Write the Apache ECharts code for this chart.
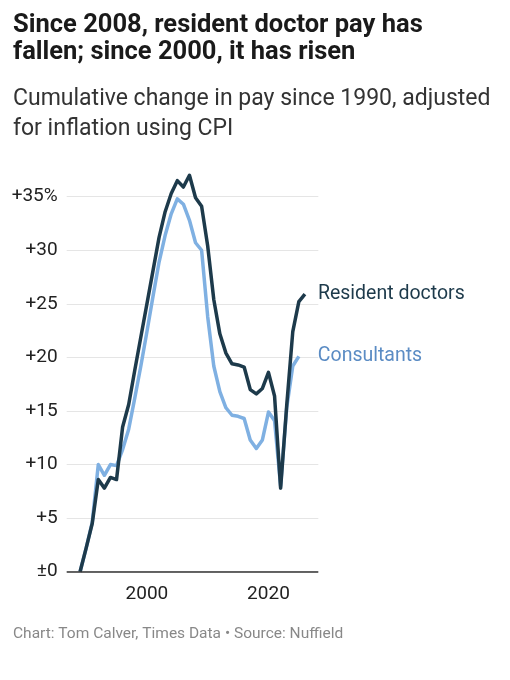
<!DOCTYPE html>
<html lang="en">
<head>
    <meta charset="utf-8">
    <title>Resident doctor pay</title>
    <script src="https://cdn.jsdelivr.net/npm/echarts@6/dist/echarts.min.js"></script>
    <style>
        html, body { margin: 0; padding: 0; background: #fff; }
        #chart { width: 510px; height: 680px; }
    </style>
</head>
<body>
    <div id="chart"></div>
    <script>
        // years on the x axis (first point is the base year, = 0)
        var years = [];
        for (var y = 1989; y <= 2026; y++) years.push(y);

        // cumulative real-terms change, %
        var residentDoctors = [0, 2.2, 4.5, 8.6, 7.8, 8.8, 8.6, 13.5, 15.6, 18.8,
            21.9, 25.0, 28.1, 31.2, 33.6, 35.3, 36.5, 35.9, 37.0, 34.9,
            34.1, 30.4, 25.4, 22.2, 20.4, 19.4, 19.3, 19.1, 17.0, 16.6,
            17.1, 18.6, 16.4, 7.8, 15.5, 22.4, 25.2, 25.9];
        var consultants = [0, 2.2, 4.6, 10.0, 9.0, 10.0, 9.9, 11.4, 13.3, 16.2,
            19.2, 22.4, 25.7, 28.9, 31.4, 33.4, 34.8, 34.3, 32.8, 30.7,
            30.0, 23.8, 19.2, 16.8, 15.3, 14.6, 14.5, 14.3, 12.3, 11.5,
            12.3, 14.9, 14.1, 8.0, 15.3, 19.2, 20.1];

        var xTicks = [2000, 2020];
        var yTicks = [0, 5, 10, 15, 20, 25, 30, 35];

        function pairs(vals) {
            return vals.map(function (v, i) { return [years[i], v]; });
        }

        var chart = echarts.init(document.getElementById('chart'));
        var font = 'Roboto, "Noto Sans", sans-serif';

        var option = {
            backgroundColor: '#fff',
            animation: false,
            textStyle: { fontFamily: font },
            title: [
                {
                    text: 'Since 2008, resident doctor pay has\nfallen; since 2000, it has risen',
                    left: 13, top: 12, padding: 0,
                    textStyle: { fontFamily: font, fontSize: 25.5, fontWeight: 'bold', color: '#1a1a1a', lineHeight: 27 }
                },
                {
                    text: 'Cumulative change in pay since 1990, adjusted\nfor inflation using CPI',
                    left: 13, top: 84, padding: 0,
                    textStyle: { fontFamily: font, fontSize: 23, fontWeight: 'normal', color: '#333', lineHeight: 30 }
                },
                {
                    text: 'Chart: Tom Calver, Times Data \u2022 Source: Nuffield',
                    left: 13, top: 625, padding: 0,
                    textStyle: { fontFamily: font, fontSize: 15.5, fontWeight: 'normal', color: '#888', lineHeight: 18 }
                }
            ],
            grid: { left: 66.7, right: 191.7, top: 196.7, bottom: 108.3 },
            xAxis: {
                type: 'value',
                min: 1986.8,
                max: 2028.2,
                axisLine: { show: false },
                axisTick: { show: false },
                splitLine: { show: false },
                axisLabel: {
                    customValues: xTicks,
                    fontSize: 19, color: '#222', margin: 13,
                    formatter: function (v) { return String(v); }
                }
            },
            yAxis: {
                type: 'value',
                min: 0, max: 35, interval: 5,
                axisLine: { show: false },
                axisTick: { show: false },
                splitLine: { lineStyle: { color: '#e5e5e5', width: 1 } },
                axisLabel: {
                    customValues: yTicks,
                    fontSize: 19, color: '#222', margin: 9,
                    formatter: function (v) {
                        if (v === 0) return '\u00b10';
                        if (v === 35) return '+35%';
                        return '+' + v;
                    }
                }
            },
            series: [
                {
                    name: 'Consultants',
                    type: 'line',
                    data: pairs(consultants),
                    showSymbol: false,
                    clip: false,
                    lineStyle: { color: '#7fb0e2', width: 3.5, join: 'round' },
                    itemStyle: { color: '#7fb0e2' },
                    endLabel: {
                        show: true, distance: 19,
                        formatter: 'Consultants',
                        fontSize: 19.5, color: '#5b8cc4', fontFamily: font
                    }
                },
                {
                    name: 'Resident doctors',
                    type: 'line',
                    data: pairs(residentDoctors),
                    showSymbol: false,
                    clip: false,
                    lineStyle: { color: '#1d3a4b', width: 3.5, join: 'round' },
                    itemStyle: { color: '#1d3a4b' },
                    endLabel: {
                        show: true, distance: 13,
                        formatter: 'Resident doctors',
                        fontSize: 19.5, color: '#1d3a4b', fontFamily: font
                    },
                    markLine: {
                        silent: true,
                        symbol: 'none',
                        label: { show: false },
                        lineStyle: { color: '#333', width: 1.5, type: 'solid' },
                        data: [{ yAxis: 0 }]
                    }
                }
            ]
        };

        chart.setOption(option);
    </script>
</body>
</html>
